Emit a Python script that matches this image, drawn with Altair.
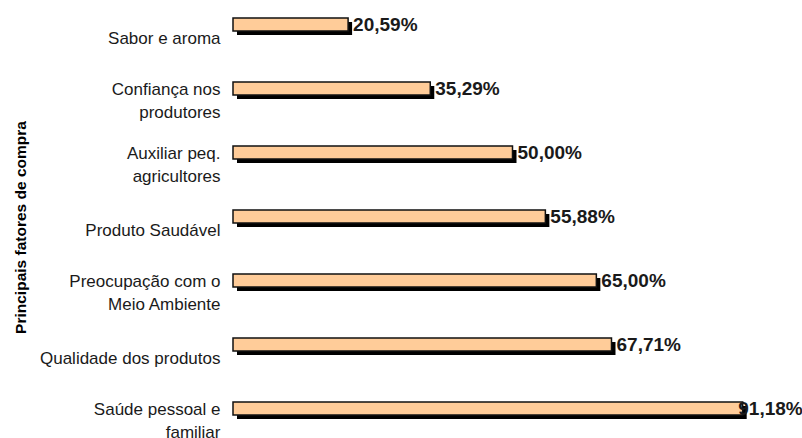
import altair as alt
import pandas as pd

categories = [
    "Sabor e aroma",
    "Confiança nos|produtores",
    "Auxiliar peq.|agricultores",
    "Produto Saudável",
    "Preocupação com o|Meio Ambiente",
    "Qualidade dos produtos",
    "Saúde pessoal e|familiar",
]
values = [20.59, 35.29, 50.00, 55.88, 65.00, 67.71, 91.18]
value_labels = [f"{v:.2f}".replace(".", ",") + "%" for v in values]

df = pd.DataFrame({"cat": categories, "val": values, "lab": value_labels})

FONT = "Liberation Sans"
STEP = 64

y_enc = alt.Y(
    "cat:N",
    sort=categories,
    scale=alt.Scale(paddingInner=0, paddingOuter=0),
    axis=alt.Axis(
        title="Principais fatores de compra",
        titleFont=FONT,
        titleFontSize=15.5,
        titleFontWeight="bold",
        titleColor="#000000",
        titleAngle=270,
        titleAlign="center",
        titleBaseline="middle",
        titleX=-213,
        titleY=227,
        labelExpr="split(datum.label, '|')",
        labelFont=FONT,
        labelFontSize=17,
        labelColor="#1a1a1a",
        labelLineHeight=23,
        labelAlign="right",
        labelBaseline="middle",
        labelOffset={
            "condition": {"test": "indexof(datum.value, '|') >= 0", "value": -6.5},
            "value": 7,
        },
        labelPadding=13,
        labelLimit=400,
        ticks=False,
        tickSize=0,
        domain=False,
        grid=False,
    ),
)

x_enc = alt.X("val:Q", scale=alt.Scale(domain=[0, 100]), axis=None)

base = alt.Chart(df)

shadow = base.mark_bar(
    color="#000000", size=13,
    xOffset=4, x2Offset=4, yOffset=-3.5, y2Offset=-3.5,
).encode(y=y_enc, x=x_enc)

bars = base.mark_bar(
    fill="#FFCC99", stroke="#111111", strokeWidth=1.5, size=13,
    yOffset=-7.5, y2Offset=-7.5,
).encode(y=y_enc, x=x_enc)

text = base.transform_calculate(
    tx="min(datum.val, 89.5)"
).mark_text(
    align="left", baseline="middle", dx=5, yOffset=-7.5,
    font=FONT, fontSize=19, fontWeight="bold", color="#1a1a1a",
).encode(
    y=y_enc,
    x=alt.X("tx:Q", scale=alt.Scale(domain=[0, 100]), axis=None),
    text="lab:N",
)

chart = (
    alt.layer(shadow, bars, text)
    .properties(
        width=559,
        height=STEP * len(categories),
        autosize=alt.AutoSizeParams(type="none"),
        padding={"left": 233, "top": 0, "right": 10, "bottom": 0},
        background="#ffffff",
    )
    .configure_view(stroke=None)
)

chart.save("out.html", embed_options={"renderer": "svg", "actions": False})
